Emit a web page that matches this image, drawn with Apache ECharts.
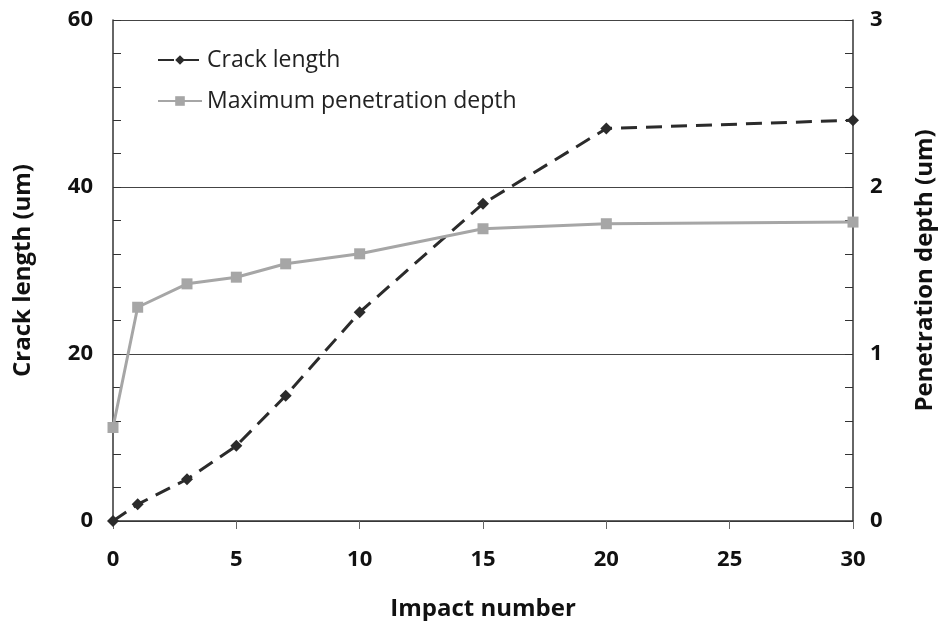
<!DOCTYPE html>
<html lang="en">
<head>
    <meta charset="UTF-8">
    <title>Crack length vs impact number</title>
    <style>
        html, body { margin: 0; padding: 0; background: #fff; }
        #chart { width: 939px; height: 621px; }
    </style>
    <script src="https://cdn.jsdelivr.net/npm/echarts@6/dist/echarts.min.js"></script>
</head>
<body>
    <div id="chart"></div>
    <script>
        // impact numbers (x) and the two measured series
        var impacts = [0, 1, 3, 5, 7, 10, 15, 20, 30];
        var crackLength = [0, 2, 5, 9, 15, 25, 38, 47, 48];
        var penetrationDepth = [0.56, 1.28, 1.42, 1.46, 1.54, 1.60, 1.75, 1.78, 1.79];

        function pairs(xs, ys) {
            return xs.map(function (x, i) { return [x, ys[i]]; });
        }

        var font = '"Open Sans", "Noto Sans", sans-serif';
        var axisColor = '#333';

        echarts.init(document.getElementById('chart')).setOption({
            animation: false,
            textStyle: { fontFamily: font },
            grid: {
                left: 113, right: 86, top: 20, bottom: 100,
                containLabel: false,
                outerBoundsMode: 'none'
            },
            legend: {
                orient: 'vertical',
                left: 152,
                top: 42,
                itemGap: 15,
                itemWidth: 44,
                itemHeight: 12,
                textStyle: { fontSize: 23, lineHeight: 26, color: '#222', fontFamily: font },
                data: ['Crack length', 'Maximum penetration depth']
            },
            xAxis: {
                type: 'value',
                min: 0,
                max: 30,
                interval: 5,
                name: 'Impact number',
                nameLocation: 'middle',
                nameGap: 76,
                nameTextStyle: { fontSize: 24, fontWeight: 'bold', color: '#111' },
                axisLine: { lineStyle: { color: axisColor, width: 1.5 } },
                axisTick: { show: true, inside: false, length: 8, lineStyle: { color: '#666' } },
                axisLabel: { fontSize: 22, fontWeight: 'bold', color: '#111', margin: 28 },
                splitLine: { show: false }
            },
            yAxis: [
                {
                    type: 'value',
                    min: 0,
                    max: 60,
                    interval: 20,
                    name: 'Crack length (um)',
                    nameLocation: 'middle',
                    nameGap: 78,
                    nameTextStyle: { fontSize: 24, fontWeight: 'bold', color: '#111' },
                    axisLine: { show: true, lineStyle: { color: axisColor, width: 1.5 } },
                    axisTick: { show: true, inside: true, length: 8, lineStyle: { color: axisColor } },
                    minorTick: { show: true, splitNumber: 5, length: 8, lineStyle: { color: axisColor } },
                    axisLabel: { fontSize: 22, fontWeight: 'bold', color: '#111', margin: 20 },
                    splitLine: { show: true, lineStyle: { color: '#444', width: 1 } }
                },
                {
                    type: 'value',
                    min: 0,
                    max: 3,
                    interval: 1,
                    name: 'Penetration depth (um)',
                    nameLocation: 'middle',
                    nameGap: 60,
                    nameRotate: 90,
                    nameTextStyle: { fontSize: 24, fontWeight: 'bold', color: '#111' },
                    axisLine: { show: true, lineStyle: { color: axisColor, width: 1.5 } },
                    axisTick: { show: true, inside: true, length: 8, lineStyle: { color: axisColor } },
                    minorTick: { show: true, splitNumber: 5, length: 8, lineStyle: { color: axisColor } },
                    axisLabel: { fontSize: 22, fontWeight: 'bold', color: '#111', margin: 17 },
                    splitLine: { show: false }
                }
            ],
            series: [
                {
                    name: 'Crack length',
                    type: 'line',
                    yAxisIndex: 0,
                    symbol: 'diamond',
                    symbolSize: 12,
                    itemStyle: { color: '#2b2b2b' },
                    lineStyle: { color: '#2b2b2b', width: 3, type: [16, 9] },
                    data: pairs(impacts, crackLength)
                },
                {
                    name: 'Maximum penetration depth',
                    type: 'line',
                    yAxisIndex: 1,
                    symbol: 'rect',
                    symbolSize: 11,
                    itemStyle: { color: '#a6a6a6' },
                    lineStyle: { color: '#a6a6a6', width: 3 },
                    data: pairs(impacts, penetrationDepth)
                }
            ]
        });
    </script>
</body>
</html>
